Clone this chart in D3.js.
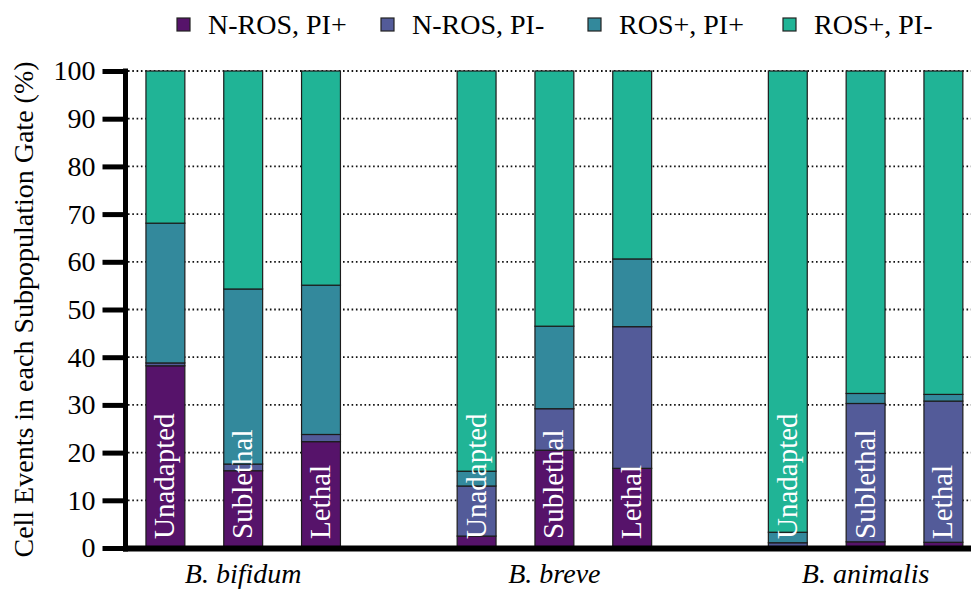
<!DOCTYPE html>
<html>
<head>
<meta charset="utf-8">
<script src="https://cdn.jsdelivr.net/npm/d3@7"></script>
<style>
  html, body { margin: 0; padding: 0; background: #fff; }
  svg { display: block; }
</style>
</head>
<body>
<svg id="chart" width="971" height="590"></svg>
<script>
// Species groups and treatments within each group
const species = ["B. bifidum", "B. breve", "B. animalis"];
const treatments = ["Unadapted", "Sublethal", "Lethal"];

// Subpopulation gates (stack order, bottom to top)
const gates = ["N-ROS, PI+", "N-ROS, PI-", "ROS+, PI+", "ROS+, PI-"];
const gateColors = ["#56136a", "#535b99", "#33899c", "#20b496"];

// Percent of cell events per gate; order: bifidum U/S/L, breve U/S/L, animalis U/S/L
const nrosPIpos = [38.2, 16.2, 22.3, 2.5, 20.5, 16.7, 0.3, 1.3, 1.2];
const nrosPIneg = [0.6, 1.4, 1.5, 10.5, 8.7, 29.7, 0.8, 29.0, 29.6];
const rosPIpos  = [29.3, 36.7, 31.3, 3.1, 17.3, 14.2, 2.2, 2.1, 1.4];
const rosPIneg  = [31.9, 45.7, 44.9, 83.9, 53.5, 39.4, 96.7, 67.6, 67.8];

const yTicks = [0, 10, 20, 30, 40, 50, 60, 70, 80, 90, 100];

const FONT = "'Liberation Serif'";

// Build rows for d3.stack
const rows = [];
species.forEach((sp, i) => {
  treatments.forEach((tr, j) => {
    const k = i * treatments.length + j;
    rows.push({
      species: sp, treatment: tr,
      "N-ROS, PI+": nrosPIpos[k],
      "N-ROS, PI-": nrosPIneg[k],
      "ROS+, PI+": rosPIpos[k],
      "ROS+, PI-": rosPIneg[k]
    });
  });
});

const svg = d3.select("#chart");
const W = 971;

const y = d3.scaleLinear().domain([0, 100]).range([548, 71]);

const x0 = d3.scaleBand().domain(species).range([126.5, 982.3])
  .paddingInner(0.25).paddingOuter(0);
const x1 = d3.scaleBand().domain(treatments).range([0, x0.bandwidth()])
  .paddingInner(0.5).paddingOuter(0.25);

const color = d3.scaleOrdinal().domain(gates).range(gateColors);

// Dotted horizontal grid
svg.append("g")
  .selectAll("line")
  .data(yTicks.filter(d => d > 0))
  .join("line")
  .attr("x1", 128).attr("x2", W)
  .attr("y1", d => y(d)).attr("y2", d => y(d))
  .attr("stroke", "#111")
  .attr("stroke-width", 1.8)
  .attr("stroke-dasharray", "1.6,2.7");

// Stacked bars
const stacked = d3.stack().keys(gates)(rows);
const barG = svg.append("g");
stacked.forEach(layer => {
  barG.append("g")
    .attr("fill", color(layer.key))
    .selectAll("rect")
    .data(layer)
    .join("rect")
    .attr("x", d => x0(d.data.species) + x1(d.data.treatment))
    .attr("width", x1.bandwidth())
    .attr("y", d => y(d[1]))
    .attr("height", d => y(d[0]) - y(d[1]))
    .attr("stroke", "#1c1c1c")
    .attr("stroke-width", 1.2);
});

// Treatment labels inside bars
svg.append("g")
  .selectAll("text")
  .data(rows)
  .join("text")
  .attr("transform", d => {
    const cx = x0(d.species) + x1(d.treatment) + x1.bandwidth() / 2 + 9;
    return `translate(${cx},539) rotate(-90)`;
  })
  .attr("fill", "#fff")
  .style("font-family", FONT)
  .style("font-size", "29px")
  .text(d => d.treatment);

// Y axis
const yAxis = d3.axisLeft(y).tickValues(yTicks).tickSize(23).tickPadding(7);
const yg = svg.append("g").attr("transform", "translate(125.5,0)").call(yAxis);
yg.select(".domain").remove();
yg.selectAll(".tick line").attr("stroke", "#000").attr("stroke-width", 5);
yg.selectAll(".tick text")
  .style("font-family", FONT)
  .style("font-size", "28px")
  .attr("fill", "#000");
svg.append("line")
  .attr("x1", 125.5).attr("x2", 125.5)
  .attr("y1", y(100) - 2.5).attr("y2", 551.5)
  .attr("stroke", "#000").attr("stroke-width", 5);

// X axis baseline
svg.append("line")
  .attr("x1", 123).attr("x2", W)
  .attr("y1", 548.5).attr("y2", 548.5)
  .attr("stroke", "#000").attr("stroke-width", 6);

// Species labels
svg.append("g")
  .selectAll("text")
  .data(species)
  .join("text")
  .attr("x", d => x0(d) + x0.bandwidth() / 2)
  .attr("y", 583)
  .attr("text-anchor", "middle")
  .style("font-family", FONT)
  .style("font-size", "28px")
  .style("font-style", "italic")
  .text(d => d);

// Y axis title
svg.append("text")
  .attr("transform", `translate(33,${(y(0) + y(100)) / 2}) rotate(-90)`)
  .attr("text-anchor", "middle")
  .style("font-family", FONT)
  .style("font-size", "28px")
  .text("Cell Events in each Subpopulation Gate (%)");

// Legend
const legendX = [177, 381, 588, 783];
const legend = svg.append("g")
  .selectAll("g")
  .data(gates)
  .join("g")
  .attr("transform", (d, i) => `translate(${legendX[i]},18)`);
legend.append("rect")
  .attr("width", 13).attr("height", 13)
  .attr("fill", d => color(d))
  .attr("stroke", "#222").attr("stroke-width", 1.2);
legend.append("text")
  .attr("x", 31).attr("y", 16)
  .style("font-family", FONT)
  .style("font-size", "28px")
  .text(d => d);
</script>
</body>
</html>
